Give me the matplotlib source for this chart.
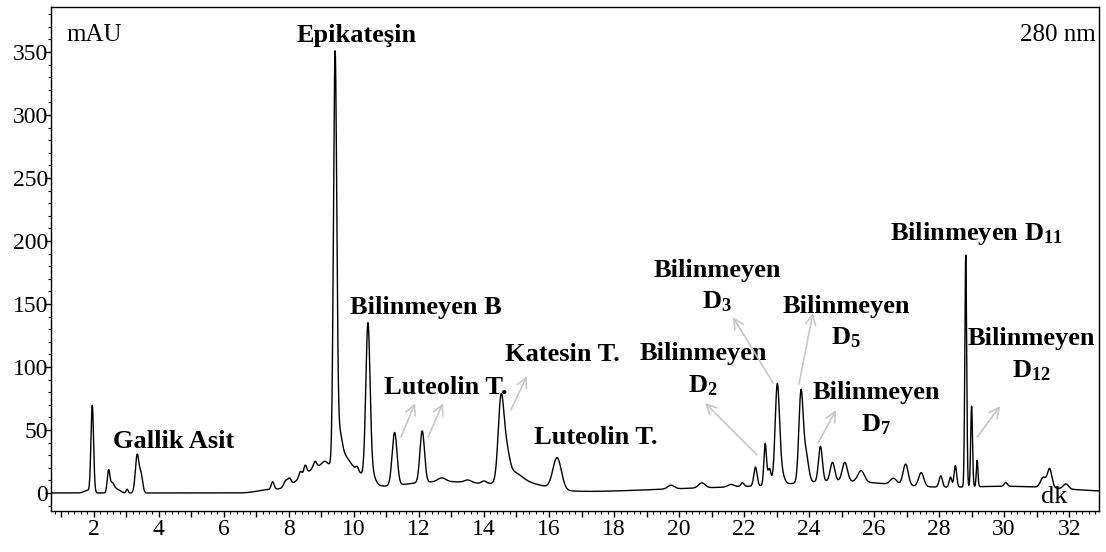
import numpy as np
import matplotlib.pyplot as plt
from matplotlib.ticker import MultipleLocator, FuncFormatter

plt.rcParams['font.family'] = ['Liberation Serif', 'DejaVu Serif']
plt.rcParams['mathtext.fontset'] = 'custom'
plt.rcParams['mathtext.bf'] = 'Liberation Serif:bold'
plt.rcParams['mathtext.rm'] = 'Liberation Serif'

# peak table: retention time (dk), height (mAU), width (dk)
peak_rt = [1.80, 1.95, 2.45, 2.56, 2.70, 3.02, 3.33, 3.45,
           7.30, 7.50, 7.90, 8.02, 8.35, 8.50, 8.80, 9.10,
           9.42, 9.55, 9.70, 10.10, 10.43, 10.55,
           11.25, 12.10, 12.70, 13.50, 14.00,
           14.52, 14.68, 14.90, 16.25,
           19.75, 20.70, 21.60, 21.95, 22.35, 22.65, 22.78,
           23.02, 23.10, 23.75, 23.90, 24.35, 24.72, 25.10, 25.60,
           26.60, 26.97, 27.45, 28.05, 28.35, 28.50,
           28.82, 29.00, 29.17, 30.05, 31.20, 31.40, 31.90]
peak_h = [2, 69, 17, 7, 3, 3, 30, 14,
          2, 6, 5, 5, 5, 7, 5, 3,
          322, 22, 8, 3, 121, 8,
          42, 41, 3, 2, 2,
          62, 22, 8, 25,
          3, 4, 2, 3, 15, 33, 13,
          70, 14, 70, 23, 28, 15, 15, 9,
          5, 17, 11, 9, 8, 17,
          184, 64, 21, 3, 8, 15, 4]
peak_w = [0.10, 0.04, 0.04, 0.06, 0.10, 0.03, 0.055, 0.05,
          0.30, 0.045, 0.06, 0.05, 0.045, 0.045, 0.05, 0.08,
          0.05, 0.08, 0.15, 0.04, 0.065, 0.10,
          0.075, 0.07, 0.12, 0.10, 0.07,
          0.085, 0.10, 0.25, 0.13,
          0.10, 0.10, 0.10, 0.05, 0.05, 0.04, 0.05,
          0.065, 0.10, 0.065, 0.08, 0.06, 0.07, 0.08, 0.10,
          0.10, 0.08, 0.08, 0.05, 0.04, 0.04,
          0.028, 0.028, 0.025, 0.05, 0.08, 0.07, 0.08]

# slow baseline drift
drift_rt = [9.05, 10.0, 12.8, 15.3, 21.5, 25.0, 28.0, 30.5]
drift_h = [21, 10, 9, 5, 4, 6, 3, 3]
drift_w = [0.65, 0.35, 1.7, 0.6, 2.5, 1.5, 3.0, 1.5]

labels = ['Epikateşin', 'Gallik Asit', 'Bilinmeyen B', 'Luteolin T.',
          'Katesin T.', 'Luteolin T.', 'Bilinmeyen\n$\\mathbf{D_{3}}$',
          'Bilinmeyen\n$\\mathbf{D_{2}}$', 'Bilinmeyen\n$\\mathbf{D_{5}}$',
          'Bilinmeyen\n$\\mathbf{D_{7}}$', 'Bilinmeyen $\\mathbf{D_{11}}$',
          'Bilinmeyen\n$\\mathbf{D_{12}}$']
label_x = [10.09, 4.46, 12.2, 12.83, 16.4, 17.45, 21.17, 20.74, 25.14, 26.06, 29.14, 30.83]
label_y = [363, 41, 147.6, 84, 110, 44, 164, 97.6, 135, 66.7, 206, 109.5]

# arrows: tail (x, y) -> head (x, y)
arrow_tail = [(11.45, 44.4), (12.28, 44.4), (14.83, 65.9), (22.4, 30.2),
              (22.89, 87.3), (23.69, 86.5), (24.28, 39.7), (29.17, 44.4)]
arrow_head = [(11.88, 71.4), (12.74, 71.4), (15.32, 92.9), (20.8, 71.4),
              (21.66, 139.7), (24.12, 142.9), (24.83, 65.9), (29.88, 69.0)]

t = np.arange(0.68, 32.92, 0.002)
signal = np.zeros_like(t)
for c, h, w in zip(peak_rt + drift_rt, peak_h + drift_h, peak_w + drift_w):
    signal += h * np.exp(-0.5 * ((t - c) / w) ** 2)

fig = plt.figure(figsize=(11.06, 5.52), dpi=100)
ax = fig.add_axes([0.0461, 0.0743, 0.9476, 0.913])
ax.plot(t, signal, color='black', lw=1.0)

ax.set_xlim(0.68, 32.92)
ax.set_ylim(-14.3, 385.7)

ax.xaxis.set_major_locator(MultipleLocator(1))
ax.xaxis.set_minor_locator(MultipleLocator(0.2))
ax.xaxis.set_major_formatter(FuncFormatter(lambda v, p: '%d' % v if int(round(v)) % 2 == 0 else ''))
ax.yaxis.set_major_locator(MultipleLocator(50))
ax.yaxis.set_minor_locator(MultipleLocator(10))
ax.tick_params(axis='both', which='major', direction='out', length=4, width=1, labelsize=17)
ax.tick_params(axis='both', which='minor', direction='out', length=2, width=0.8)
ax.tick_params(axis='y', pad=-2)
ax.tick_params(axis='x', pad=2)
for s in ax.spines.values():
    s.set_linewidth(1.0)

for txt, x, y in zip(labels, label_x, label_y):
    ax.text(x, y, txt, ha='center', va='center', fontsize=19, fontweight='bold',
            linespacing=1.4)

for (x0, y0), (x1, y1) in zip(arrow_tail, arrow_head):
    ax.annotate('', xy=(x1, y1), xytext=(x0, y0),
                arrowprops=dict(arrowstyle='->', color='#c8c8c8', lw=1.2,
                                mutation_scale=18, shrinkA=0, shrinkB=0))

ax.text(0.015, 0.944, 'mAU', transform=ax.transAxes, ha='left', va='center', fontsize=18)
ax.text(0.997, 0.944, '280 nm', transform=ax.transAxes, ha='right', va='center', fontsize=18)
ax.text(0.970, 0.005, 'dk', transform=ax.transAxes, ha='right', va='bottom', fontsize=19)

fig.savefig('out.png', dpi=100)
